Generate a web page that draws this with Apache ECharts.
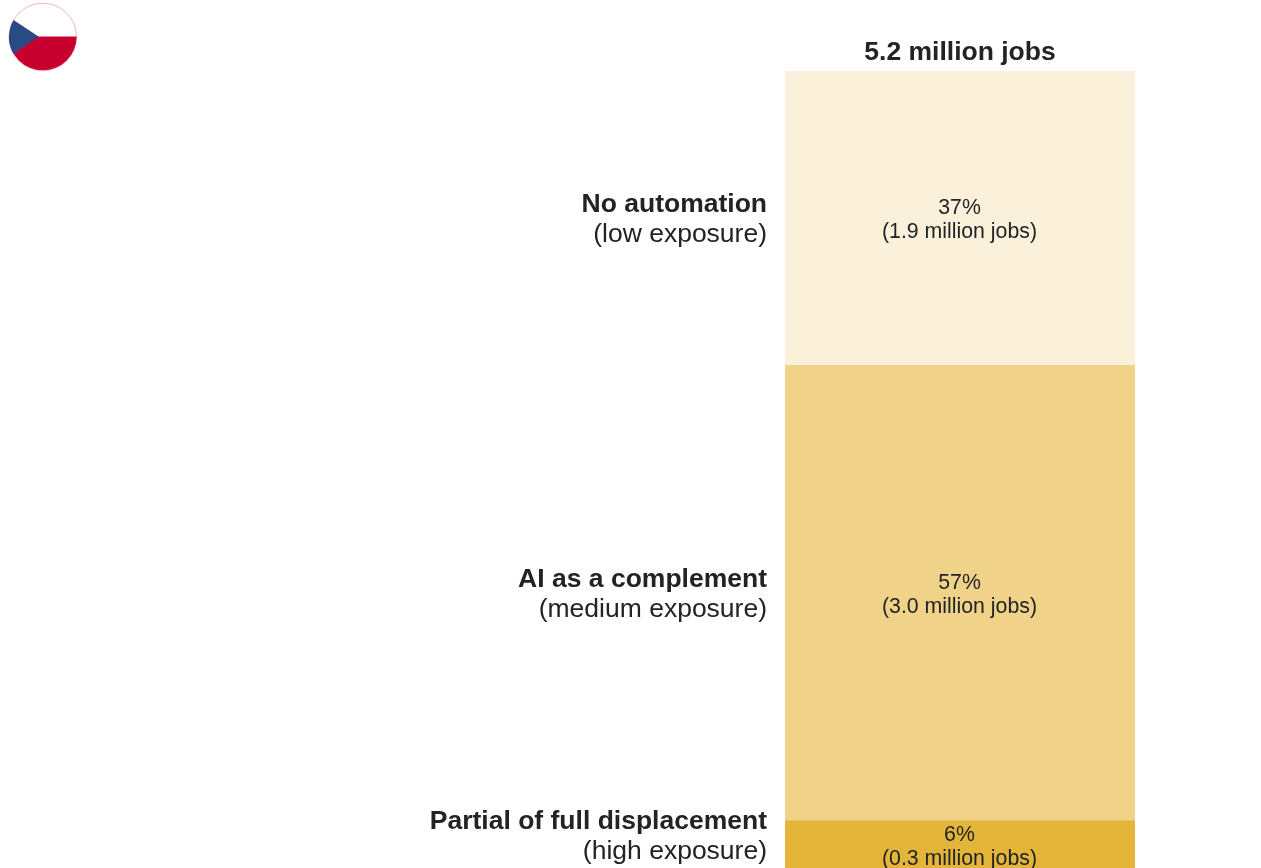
<!DOCTYPE html>
<html>
<head>
<meta charset="utf-8">
<style>html,body{margin:0;padding:0;background:#fff;overflow:hidden}#c{width:1261px;height:868px}</style>
<script src="https://cdn.jsdelivr.net/npm/echarts@6/dist/echarts.min.js"></script>
</head>
<body>
<div id="c"></div>
<script>
const columnLabels = ['5.2 million jobs'];
const groups = ['No automation', 'AI as a complement', 'Partial of full displacement'];
const exposures = ['(low exposure)', '(medium exposure)', '(high exposure)'];
const shares = [36.9, 57.1, 6.0];
const shareLabels = ['37%', '57%', '6%'];
const jobLabels = ['(1.9 million jobs)', '(3.0 million jobs)', '(0.3 million jobs)'];
const colors = ['#FBF0D9', '#F0D389', '#E3B539'];
const leftLabelOffsets = [2, 2, -7];

const FONT = '"Liberation Sans", Arial, sans-serif';
const INK = '#222327';

const series = [];
groups.forEach((g, i) => {
  series.push({
    name: g, type: 'bar', stack: 'fill', barWidth: '100%', silent: true,
    data: [shares[i]],
    itemStyle: { color: colors[i] },
    label: {
      show: true, position: 'inside', offset: [-0.5, i === 2 ? 3 : 2], color: INK, fontFamily: FONT,
      fontSize: 21.3, lineHeight: 24,
      formatter: () => shareLabels[i] + '\n' + jobLabels[i]
    }
  });
});
groups.forEach((g, i) => {
  series.push({
    name: g + ' label', type: 'bar', stack: 'labels', barWidth: '100%', barGap: '-100%', silent: true,
    data: [shares[i]],
    itemStyle: { color: 'transparent' },
    label: {
      show: true, position: 'left', distance: 18, offset: [0, leftLabelOffsets[i]],
      align: 'right', fontFamily: FONT,
      formatter: () => '{b|' + g + '}\n{n|' + exposures[i] + '}',
      rich: {
        b: { fontFamily: FONT, fontWeight: 'bold', fontSize: 26.5, lineHeight: 30, color: INK, align: 'right' },
        n: { fontFamily: FONT, fontSize: 26.5, lineHeight: 30, color: INK, align: 'right' }
      }
    }
  });
});

// flag badge outline: hoist side of the Czech flag, a triangle closed by the circle's arc
const fcx = 42.8, fcy = 37, fr = 33.8;
const hoist = [[38.5, 36.5]];
for (let deg = 210; deg >= 150; deg -= 4) {
  const a = deg * Math.PI / 180;
  hoist.push([fcx + fr * Math.cos(a), fcy - fr * Math.sin(a)]);
}

const chart = echarts.init(document.getElementById('c'), null, { renderer: 'canvas', width: 1261, height: 868 });
chart.setOption({
  animation: false,
  backgroundColor: '#fff',
  grid: { left: 785, top: 71, width: 350, height: 798, containLabel: false },
  xAxis: {
    type: 'category', position: 'top', data: columnLabels,
    axisLine: { show: false }, axisTick: { show: false },
    axisLabel: { show: true, margin: 5, color: INK, fontFamily: FONT, fontWeight: 'bold', fontSize: 26.5 }
  },
  yAxis: {
    type: 'value', min: 0, max: 100, inverse: true, show: false, splitLine: { show: false }
  },
  series,
  graphic: [
    { type: 'circle', shape: { cx: fcx, cy: fcy, r: fr }, style: { fill: '#fff', stroke: '#EFB8C6', lineWidth: 1 } },
    { type: 'sector', shape: { cx: fcx, cy: fcy - 0.5, r: fr, r0: 0, startAngle: 0, endAngle: Math.PI, clockwise: true }, style: { fill: '#C8002F' } },
    { type: 'polygon', shape: { points: hoist }, style: { fill: '#2A4A85' } }
  ]
});
</script>
</body>
</html>
